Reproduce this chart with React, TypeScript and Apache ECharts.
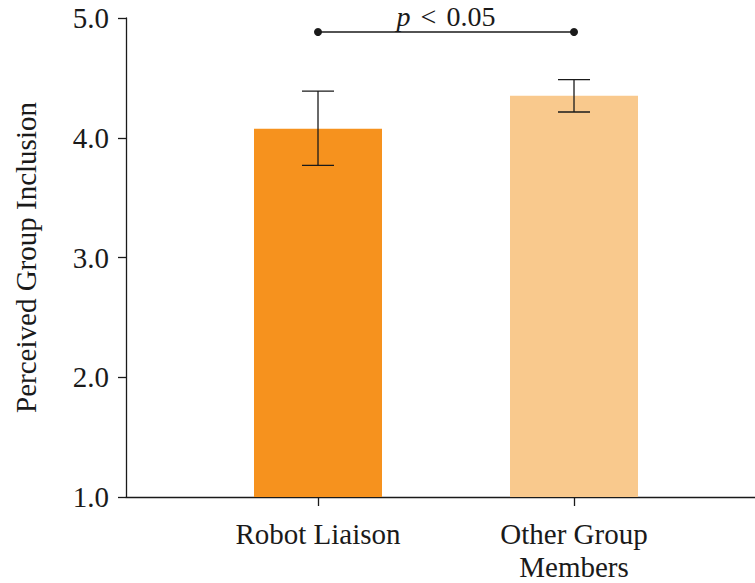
import React, { useEffect, useRef } from "react";
import * as echarts from "echarts";

const categories = ["Robot Liaison", "Other Group\nMembers"];
const positions = [0, 1];
const means = [4.075, 4.35];
const errLower = [3.77, 4.215];
const errUpper = [4.39, 4.485];
const barColors = ["#F6921E", "#F9C98D"];
const yTicks = [1, 2, 3, 4, 5];
const sigLevel = 4.883;

const FONT = "'Liberation Serif', 'Times New Roman', serif";
const INK = "#1a1a1a";

export default function App() {
  const ref = useRef<HTMLDivElement>(null);
  useEffect(() => {
    if (!ref.current) return;
    const chart = echarts.init(ref.current, undefined, { renderer: "svg" });
    chart.setOption({
      animation: false,
      textStyle: { fontFamily: FONT },
      grid: { left: 126, right: 0, top: 18, bottom: 86, containLabel: false },
      xAxis: {
        type: "value",
        min: -0.75,
        max: 1.707,
        splitLine: { show: false },
        axisLine: { show: true, onZero: false, lineStyle: { color: INK, width: 1.3 } },
        axisTick: { show: true, length: 9, customValues: positions, lineStyle: { color: INK, width: 1.3 } },
        axisLabel: {
          customValues: positions,
          formatter: (v: number) => categories[Math.round(v)] ?? "",
          fontFamily: FONT,
          fontSize: 29,
          color: INK,
          lineHeight: 33,
          margin: 20,
        },
      },
      yAxis: {
        type: "value",
        min: yTicks[0],
        max: yTicks[yTicks.length - 1],
        interval: 1,
        splitLine: { show: false },
        axisLine: { show: true, onZero: false, lineStyle: { color: INK, width: 1.3 } },
        axisTick: { show: true, length: 8, lineStyle: { color: INK, width: 1.3 } },
        axisLabel: {
          formatter: (v: number) => v.toFixed(1),
          fontFamily: FONT,
          fontSize: 29,
          color: INK,
          margin: 17,
        },
        name: "Perceived Group Inclusion",
        nameLocation: "middle",
        nameGap: 86,
        nameTextStyle: { fontFamily: FONT, fontSize: 29, color: INK },
      },
      series: [
        {
          type: "bar",
          barWidth: 128,
          data: positions.map((p, i) => ({
            value: [p, means[i]],
            itemStyle: { color: barColors[i] },
          })),
        },
        {
          type: "custom",
          data: positions.map((p, i) => [p, errLower[i], errUpper[i]]),
          encode: { x: 0, y: [1, 2] },
          z: 10,
          renderItem: (params: any, api: any) => {
            const x = api.value(0);
            const lo = api.coord([x, api.value(1)]);
            const hi = api.coord([x, api.value(2)]);
            const hw = 16;
            const style = { stroke: INK, lineWidth: 1.3 };
            return {
              type: "group",
              children: [
                { type: "line", shape: { x1: lo[0], y1: lo[1], x2: hi[0], y2: hi[1] }, style },
                { type: "line", shape: { x1: hi[0] - hw, y1: hi[1], x2: hi[0] + hw, y2: hi[1] }, style },
                { type: "line", shape: { x1: lo[0] - hw, y1: lo[1], x2: lo[0] + hw, y2: lo[1] }, style },
              ],
            };
          },
        },
        {
          type: "custom",
          data: [[positions[0], sigLevel, positions[1]]],
          encode: { x: 0, y: 1 },
          z: 10,
          renderItem: (params: any, api: any) => {
            const a = api.coord([api.value(0), api.value(1)]);
            const b = api.coord([api.value(2), api.value(1)]);
            const style = { stroke: INK, lineWidth: 1.5 };
            return {
              type: "group",
              children: [
                { type: "line", shape: { x1: a[0], y1: a[1], x2: b[0], y2: b[1] }, style },
                { type: "circle", shape: { cx: a[0], cy: a[1], r: 4 }, style: { fill: INK } },
                { type: "circle", shape: { cx: b[0], cy: b[1], r: 4 }, style: { fill: INK } },
                {
                  type: "text",
                  x: (a[0] + b[0]) / 2,
                  y: a[1] - 2,
                  style: {
                    text: "{i|p}{s|<}{n|0.05}",
                    align: "center",
                    verticalAlign: "bottom",
                    fontFamily: FONT,
                    fontSize: 28,
                    fill: INK,
                    rich: {
                      i: { fontStyle: "italic", fontFamily: FONT, fontSize: 28, fill: INK },
                      s: { fontFamily: FONT, fontSize: 28, fill: INK, padding: [0, 10, 0, 10] },
                      n: { fontFamily: FONT, fontSize: 28, fill: INK },
                    },
                  },
                },
              ],
            };
          },
        },
      ],
    });
    return () => chart.dispose();
  }, []);
  return <div ref={ref} style={{ width: 755, height: 583, position: "absolute", left: 0, top: 0 }} />;
}
